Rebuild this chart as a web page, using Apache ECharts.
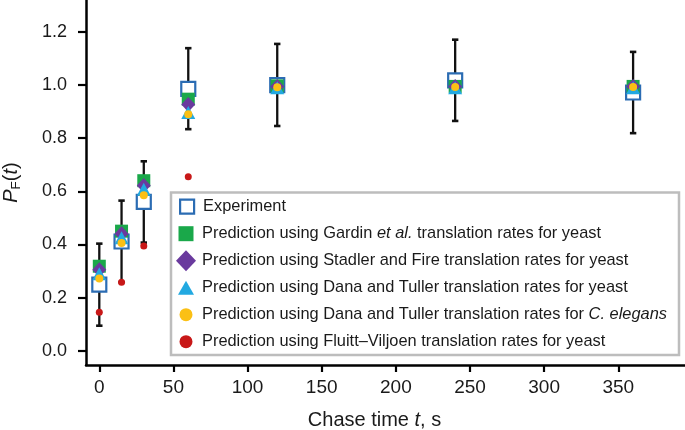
<!DOCTYPE html>
<html>
<head>
<meta charset="utf-8">
<script src="https://cdn.jsdelivr.net/npm/echarts@6/dist/echarts.min.js"></script>
<style>html,body{margin:0;padding:0;background:#fff}#c{width:685px;height:430px}</style>
</head>
<body>
<div id="c"></div>
<script>
// ---- data ----
const times = [0, 15, 30, 60, 120, 240, 360];
const experiment = [0.249, 0.411, 0.56, 0.986, 1.0, 1.018, 0.972];
const errLow = [0.094, 0.258, 0.407, 0.834, 0.846, 0.865, 0.819];
const errHigh = [0.403, 0.565, 0.713, 1.139, 1.155, 1.171, 1.125];
const gardin = [0.318, 0.45, 0.64, 0.947, 0.997, 0.995, 0.995];
const stadler = [0.305, 0.44, 0.622, 0.927, 0.995, 0.995, 0.995];
const danaYeast = [0.29, 0.425, 0.608, 0.897, 0.99, 0.99, 0.99];
const danaElegans = [0.272, 0.405, 0.585, 0.89, 0.992, 0.993, 0.993];
const fluitt = [0.145, 0.258, 0.394, 0.655, null, null, null];
const xTicks = [0, 50, 100, 150, 200, 250, 300, 350];
const yTicks = [0, 0.2, 0.4, 0.6, 0.8, 1.0, 1.2];
const seriesNames = [
  'Experiment',
  'Prediction using Gardin et al. translation rates for yeast',
  'Prediction using Stadler and Fire translation rates for yeast',
  'Prediction using Dana and Tuller translation rates for yeast',
  'Prediction using Dana and Tuller translation rates for C. elegans',
  'Prediction using Fluitt\u2013Viljoen translation rates for yeast'
];

const FONT = 'Liberation Sans, Arial, Helvetica, sans-serif';
const TXT = '#1a1a1a';
const colors = {blue:'#2b6cb3', green:'#1aa84a', purple:'#6a3a9e', cyan:'#22a9e1', yellow:'#fbc015', red:'#c81818'};

const pair = (ys) => times.map((t, i) => [t, ys[i]]);
const errData = times.map((t, i) => [t, errLow[i], errHigh[i]]);

const chart = echarts.init(document.getElementById('c'), null, {renderer: 'canvas'});

function errRender(params, api) {
  const x = api.value(0), lo = api.value(1), hi = api.value(2);
  const a = api.coord([x, lo]), b = api.coord([x, hi]);
  const cap = 3.2;
  return {type: 'group', children: [
    {type: 'line', shape: {x1: a[0], y1: a[1], x2: b[0], y2: b[1]}, style: {stroke: '#111', lineWidth: 2.3}},
    {type: 'line', shape: {x1: a[0] - cap, y1: a[1], x2: a[0] + cap, y2: a[1]}, style: {stroke: '#111', lineWidth: 2.6}},
    {type: 'line', shape: {x1: b[0] - cap, y1: b[1], x2: b[0] + cap, y2: b[1]}, style: {stroke: '#111', lineWidth: 2.6}}
  ]};
}

// legend layout (style only)
const legendIcons = [
  {icon: 'rect', w: 14, h: 14, itemStyle: {color: '#fff', borderColor: colors.blue, borderWidth: 2.2}},
  {icon: 'rect', w: 15, h: 15},
  {icon: 'diamond', w: 20, h: 21},
  {icon: 'triangle', w: 16, h: 14},
  {icon: 'circle', w: 13, h: 13},
  {icon: 'circle', w: 13, h: 13}
];
const LFS = 16.4;
const iconCX = 186, textX = 202, row0 = 206.7, rowStep = 27;
const rich = {
  i: {fontStyle: 'italic', fontSize: LFS, fontFamily: FONT, color: TXT, lineHeight: 22}
};
const legends = seriesNames.map((name, k) => {
  const ic = legendIcons[k];
  const lg = {
    data: [{name: name, icon: ic.icon}],
    left: iconCX - ic.w / 2,
    top: row0 + rowStep * k - 11,
    padding: 0,
    itemWidth: ic.w,
    itemHeight: ic.h,
    selectedMode: false,
    formatter: (n) => n.replace('et al.', '{i|et al.}').replace('C. elegans', '{i|C. elegans}'),
    textStyle: {fontSize: LFS, fontFamily: FONT, color: TXT, lineHeight: 22,
      padding: [0, 0, 0, textX - iconCX - ic.w / 2 - 5], rich: rich}
  };
  if (ic.itemStyle) lg.itemStyle = ic.itemStyle;
  return lg;
});

const option = {
  animation: false,
  backgroundColor: '#fff',
  grid: {left: 86, right: 0, top: 0, bottom: 65, containLabel: false, outerBoundsMode: 'none'},
  xAxis: {
    type: 'value', min: -8.97, max: 395,
    name: 'Chase time {i|t}, s',
    nameLocation: 'middle', nameGap: 45,
    nameTextStyle: {fontSize: 20, fontFamily: FONT, color: TXT, padding: [0, 22, 0, 0],
      rich: {i: {fontStyle: 'italic', fontSize: 20, fontFamily: FONT, color: TXT}}},
    axisLine: {show: true, onZero: false, lineStyle: {color: '#000', width: 2.5}},
    axisTick: {show: true, length: 7, lineStyle: {color: '#000', width: 2.2}, customValues: xTicks},
    axisLabel: {fontSize: 19, fontFamily: FONT, color: TXT, margin: 13, customValues: xTicks},
    splitLine: {show: false}
  },
  yAxis: {
    type: 'value', min: -0.054, max: 1.3204,
    name: '{i|P}{s|F}({i|t})',
    nameLocation: 'middle', nameGap: 63, nameRotate: 90,
    nameTextStyle: {fontSize: 20, fontFamily: FONT, color: TXT,
      rich: {
        i: {fontStyle: 'italic', fontSize: 20, fontFamily: FONT, color: TXT, lineHeight: 24, verticalAlign: 'middle'},
        s: {fontSize: 13.5, fontFamily: FONT, color: TXT, lineHeight: 13, verticalAlign: 'bottom'}
      }},
    axisLine: {show: true, onZero: false, lineStyle: {color: '#000', width: 2.5}},
    axisTick: {show: true, length: 8, lineStyle: {color: '#000', width: 2.2}, customValues: yTicks},
    axisLabel: {fontSize: 18, fontFamily: FONT, color: TXT, margin: 19, customValues: yTicks,
      formatter: (v) => v.toFixed(1)},
    splitLine: {show: false}
  },
  legend: legends,
  graphic: [{
    type: 'rect', z: 3,
    shape: {x: 171, y: 192.5, width: 508, height: 162.5},
    style: {fill: '#fff', stroke: '#bdbdbd', lineWidth: 2.5}
  }],
  series: [
    {type: 'custom', name: 'err', renderItem: errRender, data: errData, encode: {x: 0, y: [1, 2]}, z: 1, silent: true},
    {type: 'scatter', name: seriesNames[0], data: pair(experiment), symbol: 'rect', symbolSize: 14,
      itemStyle: {color: '#fff', borderColor: colors.blue, borderWidth: 2.2, opacity: 1}, z: 2},
    {type: 'scatter', name: seriesNames[1], data: pair(gardin), symbol: 'rect', symbolSize: 13,
      itemStyle: {color: colors.green, opacity: 1}, z: 2},
    {type: 'scatter', name: seriesNames[2], data: pair(stadler), symbol: 'diamond', symbolSize: [14, 15],
      itemStyle: {color: colors.purple, opacity: 1}, z: 2},
    {type: 'scatter', name: seriesNames[3], data: pair(danaYeast), symbol: 'triangle', symbolSize: [14, 13],
      itemStyle: {color: colors.cyan, opacity: 1}, z: 2},
    {type: 'scatter', name: seriesNames[4], data: pair(danaElegans), symbol: 'circle', symbolSize: 8,
      itemStyle: {color: colors.yellow, opacity: 1}, z: 2},
    {type: 'scatter', name: seriesNames[5], data: pair(fluitt).filter(d => d[1] !== null), symbol: 'circle', symbolSize: 7,
      itemStyle: {color: colors.red, opacity: 1}, z: 2}
  ]
};
chart.setOption(option);
</script>
</body>
</html>
